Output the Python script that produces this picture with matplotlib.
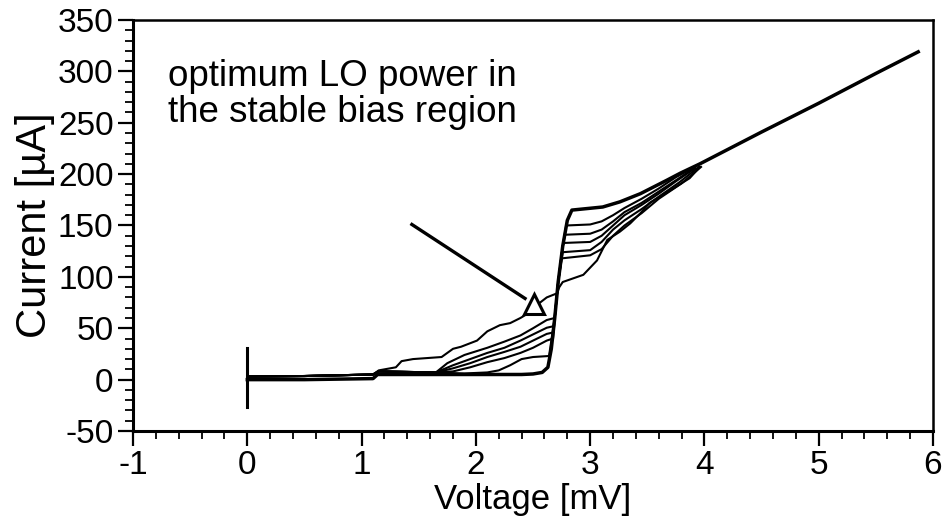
import matplotlib
matplotlib.use("Agg")
import matplotlib.pyplot as plt
from matplotlib.ticker import MultipleLocator

plt.rcParams['font.family'] = ['Liberation Sans', 'DejaVu Sans']
plt.rcParams['axes.unicode_minus'] = False

# unpumped I-V curve (thick), incl. normal-state line
v_dc = [0, 0.5, 1.1, 1.14, 1.6, 2.0, 2.4, 2.5, 2.58, 2.63, 2.66, 2.69, 2.72, 2.76,
        2.80, 2.84, 3.11, 3.26, 3.44, 3.67, 3.79, 3.96, 4.5, 5.0, 5.5, 5.87]
i_dc = [0, 0, 1, 5, 5, 5, 5, 5.5, 7, 12, 30, 60, 95, 130,
        155, 165, 168, 173, 181, 194, 201, 210, 241, 269, 298, 319]

# pumped curves, increasing LO power
v_p1 = [0, 0.5, 1.1, 1.15, 1.6, 1.9, 2.1, 2.2, 2.3, 2.4, 2.5, 2.64, 2.69, 2.72, 2.76,
        2.79, 3.0, 3.1, 3.2, 3.3, 3.45, 3.6, 3.75, 3.9]
i_p1 = [3, 3.5, 5, 8, 7, 6, 7, 9, 14, 20, 22, 23, 60, 95, 130,
        150, 151, 154, 160, 167, 176, 186, 197, 206]

v_p2 = [0, 0.5, 1.1, 1.15, 1.65, 1.8, 1.95, 2.1, 2.25, 2.39, 2.5, 2.62, 2.675, 2.69, 2.72,
        2.76, 2.78, 3.0, 3.1, 3.2, 3.3, 3.45, 3.6, 3.75, 3.9]
i_p2 = [3, 3.5, 5, 8, 7, 8, 12, 17, 21, 26, 31, 38, 40, 60, 95,
        130, 141, 142, 146, 154, 163, 172, 183, 194, 205]

v_p3 = [0, 0.5, 1.1, 1.15, 1.65, 1.8, 1.95, 2.1, 2.25, 2.39, 2.5, 2.62, 2.68, 2.69, 2.72,
        2.76, 2.77, 3.0, 3.1, 3.2, 3.3, 3.45, 3.6, 3.75, 3.92]
i_p3 = [3, 3.5, 5, 8, 7, 11, 16, 22, 27, 32, 38, 44.5, 46, 60, 95,
        130, 133, 134, 140, 150, 160, 170, 181, 193, 206]

v_p4 = [0, 0.5, 1.1, 1.15, 1.65, 1.8, 1.95, 2.1, 2.25, 2.39, 2.5, 2.62, 2.68, 2.72, 2.76,
        3.0, 3.1, 3.2, 3.3, 3.45, 3.6, 3.78, 3.95]
i_p4 = [3, 3.5, 5, 8, 7, 14, 20, 26, 31, 38, 44, 50.5, 52, 95, 124,
        126, 134, 146, 155, 166, 178, 192, 207]

v_p5 = [0, 0.5, 1.1, 1.15, 1.65, 1.75, 1.9, 2.1, 2.25, 2.39, 2.5, 2.62, 2.69, 2.72, 2.75,
        3.0, 3.1, 3.2, 3.3, 3.45, 3.6, 3.8, 3.97]
i_p5 = [3, 3.5, 5, 8, 7, 16, 24, 31, 37, 43, 50, 58, 60, 95, 118,
        121, 127, 140, 150, 162, 176, 191, 207]

v_p6 = [0, 0.5, 1.1, 1.15, 1.3, 1.35, 1.45, 1.7, 1.8, 1.87, 2.01, 2.1, 2.21, 2.3, 2.39,
        2.48, 2.55, 2.62, 2.71, 2.73, 2.76, 2.94, 3.06, 3.15, 3.26, 3.35, 3.44, 3.52,
        3.67, 3.87, 3.96]
i_p6 = [3, 3.5, 5, 9, 12, 18, 20, 22, 30, 32, 38, 47, 53, 55, 60,
        66, 74, 80, 84, 90, 95, 102, 116, 136, 144, 152, 162, 172,
        182, 196, 207]

pumped = [(v_p1, i_p1), (v_p2, i_p2), (v_p3, i_p3), (v_p4, i_p4), (v_p5, i_p5), (v_p6, i_p6)]

fig = plt.figure(figsize=(9.44, 5.26), dpi=100)
ax = fig.add_axes([0.1409, 0.1806, 0.8475, 0.7814])

for v, i in pumped:
    ax.plot(v, i, color='black', lw=1.5)
ax.plot(v_dc, i_dc, color='black', lw=2.5)

# zero bias marker
ax.plot([0, 0], [-27, 31], color='black', lw=2.2)

# arrow with open triangle
ax.plot([1.44, 2.43], [151, 79], color='black', lw=2.4)
ax.plot([2.51], [73.5], marker='^', ms=15, mfc='white', mec='black', mew=2.2)

ax.text(-0.69, 312, "optimum LO power in\nthe stable bias region", fontsize=26.5,
        va='top', ha='left', linespacing=1.05)

ax.set_xlim(-1, 6)
ax.set_ylim(-50, 350)
ax.xaxis.set_major_locator(MultipleLocator(1))
ax.xaxis.set_minor_locator(MultipleLocator(0.2))
ax.yaxis.set_major_locator(MultipleLocator(50))
ax.yaxis.set_minor_locator(MultipleLocator(10))
ax.tick_params(which='major', direction='out', length=11, width=1.6, labelsize=24, pad=3)
ax.tick_params(which='minor', direction='out', length=6, width=1.3)
ax.tick_params(top=False, right=False)

for side in ['left', 'bottom']:
    ax.spines[side].set_linewidth(2.2)
for side in ['top', 'right']:
    ax.spines[side].set_linewidth(1.8)

ax.set_xlabel("Voltage [mV]", fontsize=25, labelpad=1)
ax.set_ylabel("Current [µA]", fontsize=30, labelpad=2)

fig.savefig("out.png", dpi=100)
